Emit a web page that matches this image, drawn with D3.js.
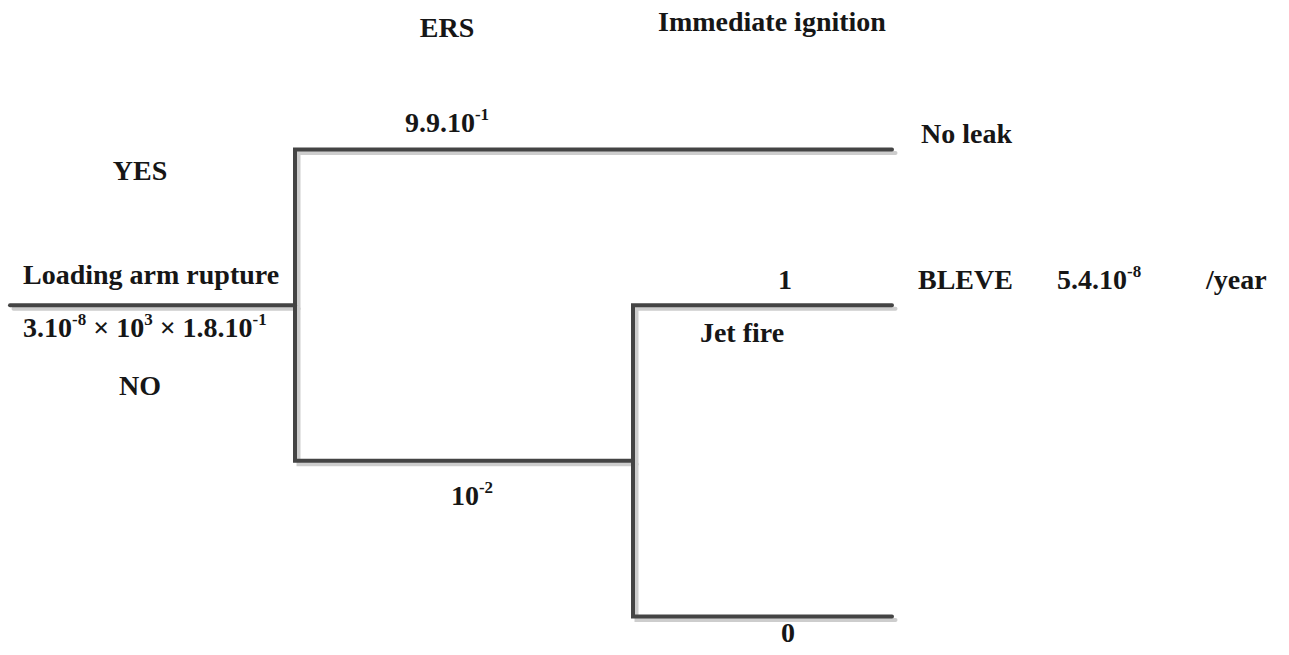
<!DOCTYPE html>
<html>
<head>
<meta charset="utf-8">
<script src="https://cdn.jsdelivr.net/npm/d3@7"></script>
<style>
  html, body { margin: 0; padding: 0; background: #fff; }
  text { font-family: "Liberation Serif", "Times New Roman", serif; font-weight: bold; fill: #161616; white-space: pre; }
</style>
</head>
<body>
<script>
// event tree values
const headers = ["ERS", "Immediate ignition"];
const initiatingEvent = "Loading arm rupture";
const initiatingFrequency = [["3.10", "-8"], [" × 10", "3"], [" × 1.8.10", "-1"]];
const ersAnswers = ["YES", "NO"];
const ersProbs = [[["9.9.10", "-1"]], [["10", "-2"]]];
const ignitionProbs = [[["1"]], [["0"]]];
const outcomes = ["No leak", "BLEVE"];
const outcomeFrequency = [["5.4.10", "-8"]];
const unit = "/year";
const sideLabel = "Jet fire";

// tree structure: stage columns and outcome rows
const branches = [
    { stage: 0, fromRow: 1, row: 1, toStage: 1 },  // initiating event
    { stage: 1, fromRow: 1, row: 0, toStage: 3 },  // ERS works
    { stage: 1, fromRow: 1, row: 2, toStage: 2 },  // ERS fails
    { stage: 2, fromRow: 2, row: 1, toStage: 3 },  // ignition
    { stage: 2, fromRow: 2, row: 3, toStage: 3 }   // no ignition
];

const width = 1289, height = 655;

const svg = d3.select('body').append('svg')
    .attr('width', width)
    .attr('height', height);

const x = d3.scaleLinear().domain([0, 1, 2, 3]).range([10, 295, 633, 892]);
const y = d3.scaleLinear().domain([0, 3]).range([149.5, 616.5]);

const path = b => `M${x(b.stage)},${y(b.fromRow)}V${y(b.row)}H${x(b.toStage)}`;

// shadow first, then the dark line
svg.append('g')
    .attr('transform', 'translate(3.5,3.5)')
    .selectAll('path')
    .data(branches)
    .join('path')
    .attr('d', path)
    .attr('fill', 'none')
    .attr('stroke', '#cdcdcd')
    .attr('stroke-width', 4)
    .attr('stroke-linejoin', 'miter')
    .attr('stroke-linecap', 'round');

svg.append('g')
    .selectAll('path')
    .data(branches)
    .join('path')
    .attr('d', path)
    .attr('fill', 'none')
    .attr('stroke', '#444')
    .attr('stroke-width', 4)
    .attr('stroke-linejoin', 'miter')
    .attr('stroke-linecap', 'round');

// text with superscripts: parts = [[base, sup], ...]
function richText(px, py, parts, anchor) {
    const t = svg.append('text')
        .attr('x', px)
        .attr('y', py)
        .attr('font-size', 28)
        .attr('text-anchor', anchor || 'start');
    let raised = false;
    parts.forEach(p => {
        t.append('tspan').attr('dy', raised ? 12 : 0).text(p[0]);
        raised = false;
        if (p[1]) {
            t.append('tspan').attr('font-size', 17).attr('dy', -12).text(p[1]);
            raised = true;
        }
    });
    return t;
}

// column headers
const colX = [x(1) + 152, x(2) + 139];
const headerY = [37, 31];
headers.forEach((h, i) => richText(colX[i], headerY[i], [[h]], 'middle'));

// initiating event
richText(x(0) + 13, y(1) - 21, [[initiatingEvent]]);
richText(x(0) + 13, y(1) + 32, initiatingFrequency);

// ERS answers
richText(140, y(0) + 30, [[ersAnswers[0]]], 'middle');
richText(140, y(2) - 66, [[ersAnswers[1]]], 'middle');

// branch probabilities
richText(colX[0], y(0) - 18, ersProbs[0], 'middle');
richText(colX[0] + 25, y(2) + 44, ersProbs[1], 'middle');
richText(785, y(1) - 16, ignitionProbs[0], 'middle');
richText(788, y(3) + 25, ignitionProbs[1], 'middle');
richText(742, y(1) + 37, [[sideLabel]], 'middle');

// outcomes
richText(x(3) + 29, y(0) - 7, [[outcomes[0]]]);
richText(x(3) + 26, y(1) - 16, [[outcomes[1]]]);
richText(1057, y(1) - 16, outcomeFrequency);
richText(1206, y(1) - 16, [[unit]]);
</script>
</body>
</html>
